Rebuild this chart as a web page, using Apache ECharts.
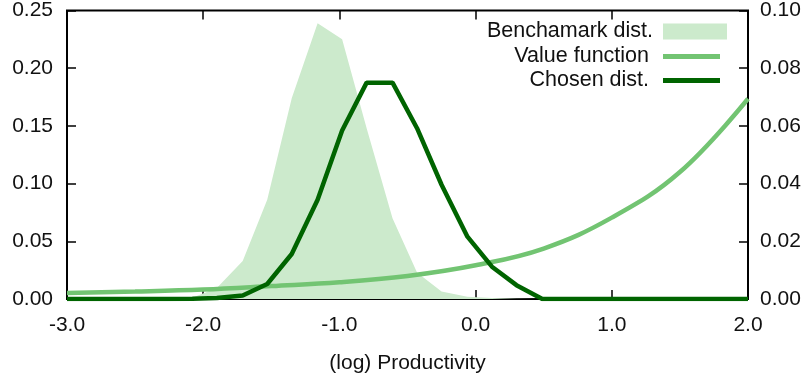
<!DOCTYPE html>
<html>
<head>
<meta charset="utf-8">
<title>Productivity</title>
<script src="https://cdn.jsdelivr.net/npm/echarts@6/dist/echarts.min.js"></script>
<style>
    html, body { margin: 0; padding: 0; background: #fff; }
    #echarts { width: 807px; height: 382px; }
</style>
</head>
<body>
<div id="echarts"></div>
<script>
// x grid (log productivity)
var xGrid = [-3.0, -2.82, -2.63, -2.45, -2.27, -2.08, -1.90, -1.71, -1.53, -1.35,
    -1.16, -0.98, -0.80, -0.61, -0.43, -0.25, -0.06, 0.12, 0.30, 0.49,
    0.67, 0.85, 1.04, 1.22, 1.40, 1.59, 1.77, 1.95, 2.0];

// benchmark distribution (left axis)
var benchData = [0, 0, 0, 0, 0, 0.001, 0.0095, 0.033, 0.086, 0.174,
    0.239, 0.225, 0.148, 0.070, 0.023, 0.0065, 0.002, 0.0008, 0.0003, 0.0001,
    0, 0, 0, 0, 0, 0, 0, 0, 0];

// chosen distribution (left axis)
var chosenData = [0, 0, 0, 0, 0.0001, 0.0003, 0.0008, 0.003, 0.013, 0.039,
    0.086, 0.146, 0.1875, 0.1875, 0.148, 0.099, 0.054, 0.028, 0.012, 0,
    0, 0, 0, 0, 0, 0, 0, 0, 0];

// value function (right axis)
var vfX = [-3.0, -2.5, -2.0, -1.5, -1.0, -0.5, 0.0, 0.5, 1.0, 1.5, 2.0];
var vfY = [0.0021, 0.0026, 0.0033, 0.0045, 0.0058, 0.0080, 0.0117, 0.0175, 0.0282, 0.0440, 0.0694];

var FONT = "'Liberation Sans', Arial, sans-serif";
var C_BENCH = '#cceacc';
var C_VALUE = '#72c472';
var C_CHOSEN = '#006400';

function pairs(xs, ys) {
    var out = [];
    for (var i = 0; i < xs.length; i++) out.push([xs[i], ys[i]]);
    return out;
}

// 图例 (one legend per row so icon sizes can differ)
function legendRow(name, top, w, h, pad) {
    return {
        top: top,
        right: 807 - 663 - w,
        padding: 0,
        align: 'right',
        itemWidth: w,
        itemHeight: h,
        icon: 'rect',
        selectedMode: false,
        itemStyle: { borderWidth: 0 },
        textStyle: { fontFamily: FONT, fontSize: 21.5, color: '#111', padding: [0, pad, 0, 0] },
        data: [name]
    };
}

var myChart = echarts.init(document.getElementById('echarts'));

function getOptions() {
    var tick = { show: true, inside: true, length: 9, lineStyle: { color: '#000', width: 1.5 } };
    var label = { fontFamily: FONT, fontSize: 21, color: '#111' };
    var noLine = { show: false, onZero: false };
    return {
        backgroundColor: '#fff',
        animation: false,
        grid: {
            show: true,
            left: 67, right: 59, top: 9.5, bottom: 83,
            borderColor: '#000', borderWidth: 2,
            backgroundColor: 'transparent'
        },
        legend: [
            legendRow('Benchamark dist.', 20.5, 64, 16, 5),
            legendRow('Value function', 45.5, 57, 5, 9),
            legendRow('Chosen dist.', 69.5, 57, 5, 9)
        ],
        xAxis: [
            {
                type: 'value', min: -3, max: 2, interval: 1,
                position: 'bottom',
                name: '(log) Productivity',
                nameLocation: 'middle',
                nameGap: 54,
                nameTextStyle: label,
                axisLine: noLine,
                axisTick: tick,
                splitLine: { show: false },
                axisLabel: Object.assign({ margin: 16, formatter: function(v) { return v.toFixed(1); } }, label)
            }, {
                // mirrored ticks on top
                type: 'value', min: -3, max: 2, interval: 1,
                position: 'top',
                axisLine: noLine,
                axisTick: tick,
                splitLine: { show: false },
                axisLabel: { show: false }
            }
        ],
        yAxis: [
            {
                type: 'value', min: 0, max: 0.25, interval: 0.05,
                position: 'left',
                axisLine: noLine,
                axisTick: tick,
                splitLine: { show: false },
                axisLabel: Object.assign({ margin: 14, formatter: function(v) { return v.toFixed(2); } }, label)
            }, {
                type: 'value', min: 0, max: 0.10, interval: 0.02,
                position: 'right',
                axisLine: noLine,
                axisTick: tick,
                splitLine: { show: false },
                axisLabel: Object.assign({ margin: 12, formatter: function(v) { return v.toFixed(2); } }, label)
            }
        ],
        series: [
            {
                name: 'Benchamark dist.',
                type: 'line',
                yAxisIndex: 0,
                color: C_BENCH,
                showSymbol: false,
                lineStyle: { width: 0 },
                areaStyle: { color: C_BENCH, opacity: 1 },
                z: 1,
                data: pairs(xGrid, benchData)
            }, {
                name: 'Value function',
                type: 'line',
                yAxisIndex: 1,
                color: C_VALUE,
                showSymbol: false,
                smooth: 0.4,
                lineStyle: { width: 4.5, color: C_VALUE },
                z: 2,
                data: pairs(vfX, vfY)
            }, {
                name: 'Chosen dist.',
                type: 'line',
                yAxisIndex: 0,
                color: C_CHOSEN,
                showSymbol: false,
                lineStyle: { width: 4.5, color: C_CHOSEN },
                z: 3,
                data: pairs(xGrid, chosenData)
            }
        ]
    };
}

myChart.setOption(getOptions());
</script>
</body>
</html>
